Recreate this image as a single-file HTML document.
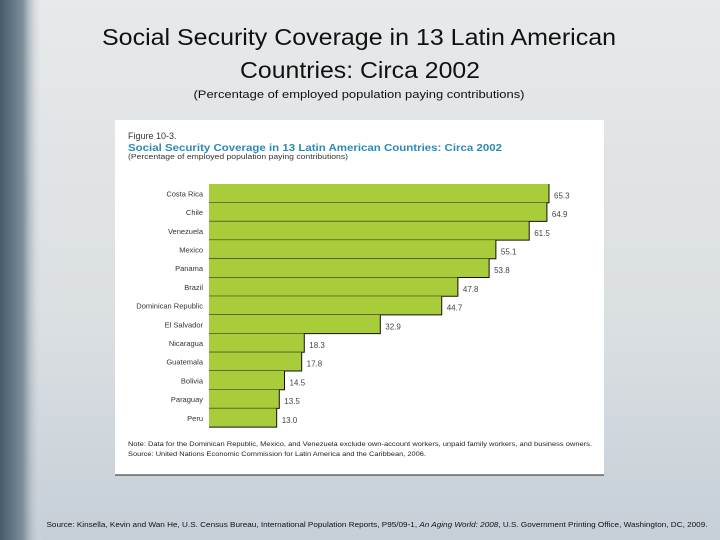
<!DOCTYPE html>
<html><head><meta charset="utf-8"><style>
html,body{margin:0;padding:0;width:720px;height:540px;overflow:hidden}
svg{display:block}
</style></head><body>
<svg width="720" height="540" xmlns="http://www.w3.org/2000/svg">
<defs>
<linearGradient id="bg" x1="0" y1="0" x2="0" y2="1"><stop offset="0" stop-color="#e7e9ea"/><stop offset="0.6" stop-color="#dadfe2"/><stop offset="1" stop-color="#c6cfd7"/></linearGradient>
<linearGradient id="side" x1="0" y1="0" x2="1" y2="0"><stop offset="0" stop-color="#465a6a"/><stop offset="0.55" stop-color="#7e8f9c"/><stop offset="1" stop-color="#dfe3e5" stop-opacity="0"/></linearGradient>
</defs>
<rect width="720" height="540" fill="url(#bg)"/>
<rect width="42" height="540" fill="url(#side)"/>
<text x="359" y="45" text-anchor="middle" font-family="Liberation Sans, sans-serif" font-size="23" fill="#111" textLength="514" lengthAdjust="spacingAndGlyphs">Social Security Coverage in 13 Latin American</text>
<text x="360" y="78" text-anchor="middle" font-family="Liberation Sans, sans-serif" font-size="23" fill="#111" textLength="240" lengthAdjust="spacingAndGlyphs">Countries: Circa 2002</text>
<text x="359" y="98" text-anchor="middle" font-family="Liberation Sans, sans-serif" font-size="11" fill="#111" textLength="331" lengthAdjust="spacingAndGlyphs">(Percentage of employed population paying contributions)</text>
<rect x="115" y="120" width="489" height="355" fill="#fff"/>
<line x1="115" y1="475" x2="604" y2="475" stroke="#222" stroke-width="1"/>
<text x="128" y="139" font-family="Liberation Sans, sans-serif" font-size="9" fill="#333">Figure 10-3.</text>
<text x="128" y="151" font-family="Liberation Sans, sans-serif" font-size="10" font-weight="bold" fill="#2a8ab8" textLength="374" lengthAdjust="spacingAndGlyphs">Social Security Coverage in 13 Latin American Countries:  Circa 2002</text>
<text x="128" y="159" font-family="Liberation Sans, sans-serif" font-size="7.5" fill="#333" textLength="220" lengthAdjust="spacingAndGlyphs">(Percentage of employed population paying contributions)</text>
<g id="bars"></g>
<text x="128" y="446" font-family="Liberation Sans, sans-serif" font-size="6.5" fill="#222" textLength="464" lengthAdjust="spacingAndGlyphs">Note: Data for the Dominican Republic, Mexico, and Venezuela exclude own-account workers, unpaid family workers, and business owners.</text>
<text x="128" y="456" font-family="Liberation Sans, sans-serif" font-size="6.5" fill="#222" textLength="298" lengthAdjust="spacingAndGlyphs">Source: United Nations Economic Commission for Latin America and the Caribbean, 2006.</text>
<text x="377" y="527" text-anchor="middle" font-family="Liberation Sans, sans-serif" font-size="7.5" fill="#111" textLength="661" lengthAdjust="spacingAndGlyphs">Source: Kinsella, Kevin and Wan He, U.S. Census Bureau, International Population Reports, P95/09-1, <tspan font-style="italic">An Aging World: 2008</tspan>, U.S. Government Printing Office, Washington, DC, 2009.</text>
</svg>
<script>
const countries=["Costa Rica","Chile","Venezuela","Mexico","Panama","Brazil","Dominican Republic","El Salvador","Nicaragua","Guatemala","Bolivia","Paraguay","Peru"];
const values=[65.3,64.9,61.5,55.1,53.8,47.8,44.7,32.9,18.3,17.8,14.5,13.5,13.0];
const valueLabels=["65.3","64.9","61.5","55.1","53.8","47.8","44.7","32.9","18.3","17.8","14.5","13.5","13.0"];
const NS="http://www.w3.org/2000/svg";
const g=document.getElementById('bars');
const x0=209,scale=340/65.3,y0=184,rowH=18.7;
const xs=v=>x0+v*scale;
const ys=i=>y0+i*rowH;
function mk(t,a){const e=document.createElementNS(NS,t);for(const k in a)e.setAttribute(k,a[k]);g.appendChild(e);return e;}
countries.forEach((c,i)=>{
  const y=ys(i),x1=xs(values[i]);
  const r=mk('rect',{x:x0,y:y,width:x1-x0,height:rowH,fill:'#a9cc3a'});
  
  
  const p=mk('path',{d:`M${x0} ${y+rowH}H${x1}V${y}`,fill:'none',stroke:'#111','stroke-width':1});
  
  
  const l=mk('text',{x:203,y:y+rowH/2+3,'text-anchor':'end','font-family':'Liberation Sans, sans-serif','font-size':'7.5',fill:'#333'});
  l.textContent=c;
  
  
  const v=mk('text',{x:x1+5,y:y+rowH/2+5,'font-family':'Liberation Sans, sans-serif','font-size':'8',fill:'#444'});
  v.textContent=valueLabels[i];
  
  
});
</script>
</body></html>
